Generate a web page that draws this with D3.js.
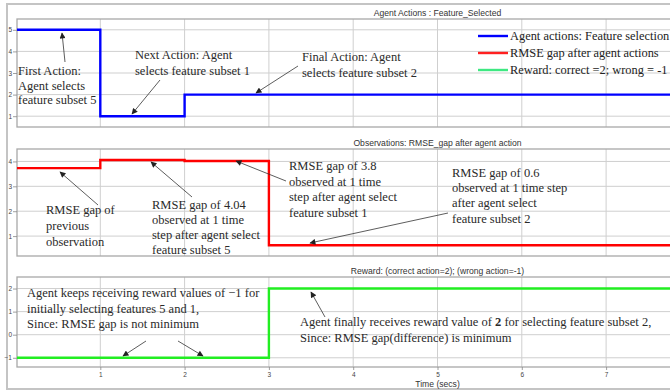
<!DOCTYPE html>
<html><head><meta charset="utf-8">
<script src="https://cdn.jsdelivr.net/npm/d3@7"></script>
<style>
html,body{margin:0;padding:0;background:#fff;overflow:hidden;}
svg{display:block;}
</style></head>
<body>
<svg id="c" width="670" height="392"></svg>
<script>
// ---- data ----
const timeSteps = [0, 1, 2, 3, 10];
const actionValues = [5, 1, 2, 2, 2];
const rmseValues = [3.73, 4.06, 4.02, 0.63, 0.63];
const rewardValues = [-1, -1, -1, 2, 2];
const xTickValues = [1, 2, 3, 4, 5, 6, 7];
const actionTicks = [1, 2, 3, 4, 5];
const rmseTicks = [1, 2, 3, 4];
const rewardTicks = [-1, 0, 1, 2];
const panelTitles = ["Agent Actions : Feature_Selected",
                     "Observations: RMSE_gap after agent action",
                     "Reward: (correct action=2); (wrong action=-1)"];
const legendLabels = ["Agent actions: Feature selection",
                      "RMSE gap after agent actions",
                      "Reward: correct =2; wrong = -1"];

// ---- layout ----
const svg = d3.select("#c");
const W = 670, H = 392;
const x = d3.scaleLinear().domain([0, 10]).range([16, 859]);
const plotLeft = 17, plotRight = 900;

const panels = [
  {top: 19, bottom: 127, domain: [0.5, 5.5], ticks: actionTicks, values: actionValues, color: "#0000ff", title: panelTitles[0]},
  {top: 149, bottom: 256, domain: [0.2, 4.5], ticks: rmseTicks, values: rmseValues, color: "#ff0000", title: panelTitles[1]},
  {top: 277, bottom: 367, domain: [-1.4, 2.5], ticks: rewardTicks, values: rewardValues, color: "#22ee22", title: panelTitles[2]}
];

// outer frame
svg.append("rect").attr("x", 7).attr("y", 4).attr("width", 700).attr("height", 385)
  .attr("fill", "none").attr("stroke", "#c4c4c4").attr("stroke-width", 2);

const defs = svg.append("defs");
defs.append("marker").attr("id", "arr").attr("viewBox", "0 0 10 10").attr("refX", 9).attr("refY", 5)
  .attr("markerWidth", 7).attr("markerHeight", 6).attr("markerUnits", "userSpaceOnUse").attr("orient", "auto")
  .append("path").attr("d", "M0,0 L10,5 L0,10 z").attr("fill", "#222");

panels.forEach((p, i) => {
  const y = d3.scaleLinear().domain(p.domain).range([p.bottom, p.top]);
  const g = svg.append("g");
  // grid
  g.selectAll(".vg").data(xTickValues.concat([8, 9])).join("line")
    .attr("x1", d => x(d)).attr("x2", d => x(d)).attr("y1", p.top).attr("y2", p.bottom)
    .attr("stroke", "#cfcfcf").attr("stroke-width", 1);
  g.selectAll(".hg").data(p.ticks).join("line")
    .attr("x1", plotLeft).attr("x2", plotRight).attr("y1", d => y(d)).attr("y2", d => y(d))
    .attr("stroke", "#cfcfcf").attr("stroke-width", 1);
  // box
  g.append("rect").attr("x", plotLeft).attr("y", p.top).attr("width", plotRight - plotLeft).attr("height", p.bottom - p.top)
    .attr("fill", "none").attr("stroke", "#a8a8a8").attr("stroke-width", 1.3);
  // y axis ticks
  const yAxis = d3.axisLeft(y).tickValues(p.ticks).tickSize(4).tickPadding(1).tickFormat(d3.format("d"));
  const ya = g.append("g").attr("transform", `translate(${plotLeft},0)`).call(yAxis);
  ya.select(".domain").remove();
  ya.selectAll("line").attr("stroke", "#888").attr("stroke-width", 0.8);
  ya.selectAll("text").attr("font-family", "Liberation Sans, Arial, sans-serif").attr("font-size", 6.5).attr("fill", "#444");
  // title
  g.append("text").attr("x", x(5)).attr("y", p.top - 3).attr("text-anchor", "middle")
    .attr("font-family", "Liberation Sans, Arial, sans-serif").attr("font-size", 8.6).attr("fill", "#333").text(p.title);
  // line
  const line = d3.line().x((d, k) => Math.max(x(timeSteps[k]), plotLeft)).y(d => y(d)).curve(d3.curveStepAfter);
  g.append("path").datum(p.values).attr("d", line).attr("fill", "none")
    .attr("stroke", p.color).attr("stroke-width", 2.4);
  if (i === 2) {
    const xAxis = d3.axisBottom(x).tickValues(xTickValues).tickSize(3).tickPadding(2).tickFormat(d3.format("d"));
    const xa = g.append("g").attr("transform", `translate(0,${p.bottom})`).call(xAxis);
    xa.select(".domain").remove();
    xa.selectAll("line").attr("stroke", "#888").attr("stroke-width", 0.8);
    xa.selectAll("text").attr("font-family", "Liberation Sans, Arial, sans-serif").attr("font-size", 6.5).attr("fill", "#444");
    g.append("text").attr("x", x(5)).attr("y", 387).attr("text-anchor", "middle")
      .attr("font-family", "Liberation Sans, Arial, sans-serif").attr("font-size", 8.6).attr("fill", "#333").text("Time (secs)");
  }
});

// legend
const legendColors = ["#0000ff", "#ff2020", "#3ee882"];
const lg = svg.append("g");
legendLabels.forEach((t, k) => {
  const ly = 36 + k * 17;
  lg.append("line").attr("x1", 478).attr("x2", 508).attr("y1", ly).attr("y2", ly)
    .attr("stroke", legendColors[k]).attr("stroke-width", 2.4);
  lg.append("text").attr("x", 510).attr("y", ly + 4).attr("font-family", "Liberation Serif, Times New Roman, serif")
    .attr("font-size", 12.4).attr("fill", "#222").text(t);
});

// annotations
const serif = "Liberation Serif, Times New Roman, serif";
const notes = [
  {x: 18, y: 75, lh: 14.5, lines: ["First Action:", "Agent selects", "feature subset 5"]},
  {x: 135, y: 59, lh: 16, lines: ["Next Action: Agent", "selects feature subset 1"]},
  {x: 302, y: 61, lh: 16, lines: ["Final Action: Agent", "selects feature subset 2"]},
  {x: 46, y: 214, lh: 16, lines: ["RMSE gap of", "previous", "observation"]},
  {x: 152, y: 209, lh: 15, lines: ["RMSE gap of 4.04", "observed at 1 time", "step after agent select", "feature subset 5"]},
  {x: 289, y: 170, lh: 15.5, lines: ["RMSE gap of 3.8", "observed at 1 time", "step after agent select", "feature subset 1"]},
  {x: 452, y: 177, lh: 15.2, lines: ["RMSE gap of 0.6", "observed at 1 time step", "after agent select", "feature subset 2"]},
  {x: 27, y: 297, lh: 15.5, lines: ["Agent keeps receiving reward values of  \u22121 for", "initially selecting features 5 and 1,", "Since: RMSE gap is not minimum"]},
  {x: 300, y: 326, lh: 15.5, lines: [null, "Since: RMSE gap(difference) is minimum"]}
];
const ag = svg.append("g");
notes.forEach(n => {
  n.lines.forEach((t, k) => {
    const te = ag.append("text").attr("x", n.x).attr("y", n.y + k * n.lh)
      .attr("font-family", serif).attr("font-size", 12.5).attr("fill", "#2a2a2a");
    if (t === null) {
      te.append("tspan").text("Agent finally receives reward value of  ");
      te.append("tspan").attr("font-weight", "bold").text("2");
      te.append("tspan").text(" for selecting feature subset 2,");
    } else te.text(t);
  });
});
const arrows = [
  [65, 62, 62, 33],
  [160, 80, 132, 114],
  [298, 66, 256, 93],
  [98, 205, 60, 172],
  [192, 197, 151, 162],
  [286, 181, 236, 161],
  [448, 213, 310, 243],
  [146, 341, 123, 356],
  [178, 341, 203, 356],
  [325, 317, 311, 292]
];
ag.selectAll(".arr").data(arrows).join("line")
  .attr("x1", d => d[0]).attr("y1", d => d[1]).attr("x2", d => d[2]).attr("y2", d => d[3])
  .attr("stroke", "#333").attr("stroke-width", 0.8).attr("marker-end", "url(#arr)");
</script>
</body></html>
